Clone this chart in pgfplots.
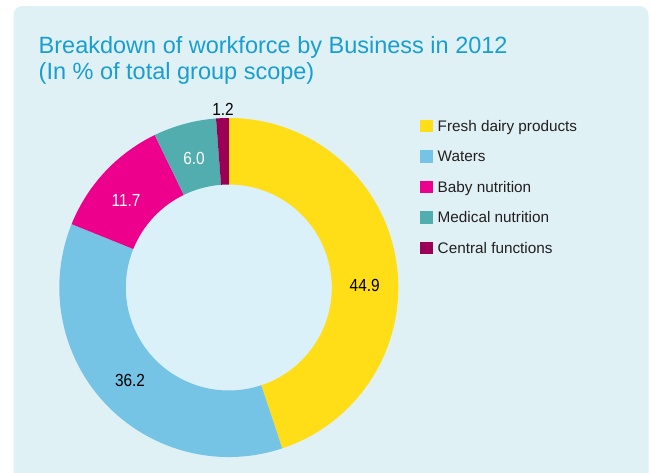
\documentclass[border=0pt]{standalone}
\usepackage{pgfplots}
\pgfplotsset{compat=1.18}
\usepackage{pgfplotstable}
\usepackage{fontspec}
\setmainfont{Liberation Sans}

\definecolor{cFresh}{RGB}{255,222,23}
\definecolor{cWaters}{RGB}{117,196,230}
\definecolor{cBaby}{RGB}{236,0,140}
\definecolor{cMed}{RGB}{82,174,174}
\definecolor{cCentral}{RGB}{155,0,86}
\definecolor{panelbg}{RGB}{224,241,246}
\definecolor{innerbg}{RGB}{219,241,250}
\definecolor{titlec}{RGB}{25,158,210}
\definecolor{legtext}{RGB}{35,31,32}

% value = share of workforce (%), lx/ly = label position (px), lc = label colour
\pgfplotstableread[col sep=comma]{
label,value,color,lx,ly,lc
Fresh dairy products,44.9,cFresh,364.7,285.5,black
Waters,36.2,cWaters,130,380,black
Baby nutrition,11.7,cBaby,126,200,white
Medical nutrition,6.0,cMed,194,158.5,white
Central functions,1.2,cCentral,223,109,black
}\donutdata

\begin{document}
\begin{tikzpicture}
\useasboundingbox (0,0) rectangle (651pt,472pt);
\begin{axis}[at={(0,0)}, anchor=south west, scale only axis,
  width=651pt, height=472pt, xmin=0, xmax=651, ymin=0, ymax=472,
  y dir=reverse, hide axis, clip=false]
\pgfplotsextra{
  \fill[white] (axis cs:0,0) rectangle (axis cs:651,472);
  \fill[panelbg, rounded corners=9pt] (axis cs:13.5,6) rectangle (axis cs:648.5,495);
  \node[anchor=base west, inner sep=0, text=titlec, font=\fontsize{23.5}{28}\selectfont]
    at (axis cs:38.5,53.3) {Breakdown of workforce by Business in 2012};
  \node[anchor=base west, inner sep=0, text=titlec, font=\fontsize{23.5}{28}\selectfont]
    at (axis cs:38.5,79.5) {(In \% of total group scope)};
  % donut
  \fill[innerbg] (axis cs:228.8,287.5) circle[radius=103pt];
  \xdef\startang{90}
  \foreach \i in {0,...,4}{
    \pgfplotstablegetelem{\i}{value}\of{\donutdata}\let\val\pgfplotsretval
    \pgfplotstablegetelem{\i}{color}\of{\donutdata}\let\col\pgfplotsretval
    \pgfmathsetmacro\endang{\startang-3.6*\val}
    \pgfmathsetmacro\backang{\endang+180}
    \fill[fill=\col] (axis cs:228.8,287.5) ++(\startang:169.5pt)
      arc[start angle=\startang, end angle=\endang, radius=169.5pt]
      -- ++(\backang:66.5pt)
      arc[start angle=\endang, end angle=\startang, radius=103pt] -- cycle;
    \xdef\startang{\endang}
  }
  % data labels
  \foreach \i in {0,...,4}{
    \pgfplotstablegetelem{\i}{value}\of{\donutdata}\let\val\pgfplotsretval
    \pgfplotstablegetelem{\i}{lx}\of{\donutdata}\let\lx\pgfplotsretval
    \pgfplotstablegetelem{\i}{ly}\of{\donutdata}\let\ly\pgfplotsretval
    \pgfplotstablegetelem{\i}{lc}\of{\donutdata}\let\lc\pgfplotsretval
    \node[inner sep=0, text=\lc, font=\fontsize{17.5}{20}\selectfont] at (axis cs:\lx,\ly)
      {\scalebox{0.88}[1]{\pgfmathprintnumber[fixed, fixed zerofill, precision=1, assume math mode=true]{\val}}};
  }
  % legend
  \foreach \i in {0,...,4}{
    \pgfplotstablegetelem{\i}{label}\of{\donutdata}\let\lab\pgfplotsretval
    \pgfplotstablegetelem{\i}{color}\of{\donutdata}\let\col\pgfplotsretval
    \pgfmathsetmacro\yc{126+30.5*\i}
    \fill[fill=\col] (axis cs:420,\yc-6.3) rectangle (axis cs:433,\yc+6.3);
    \node[anchor=base west, inner sep=0, text=legtext, font=\fontsize{15.3}{18}\selectfont]
      at (axis cs:437.5,\yc+5.4) {\lab};
  }
}
\end{axis}
\end{tikzpicture}
\end{document}
